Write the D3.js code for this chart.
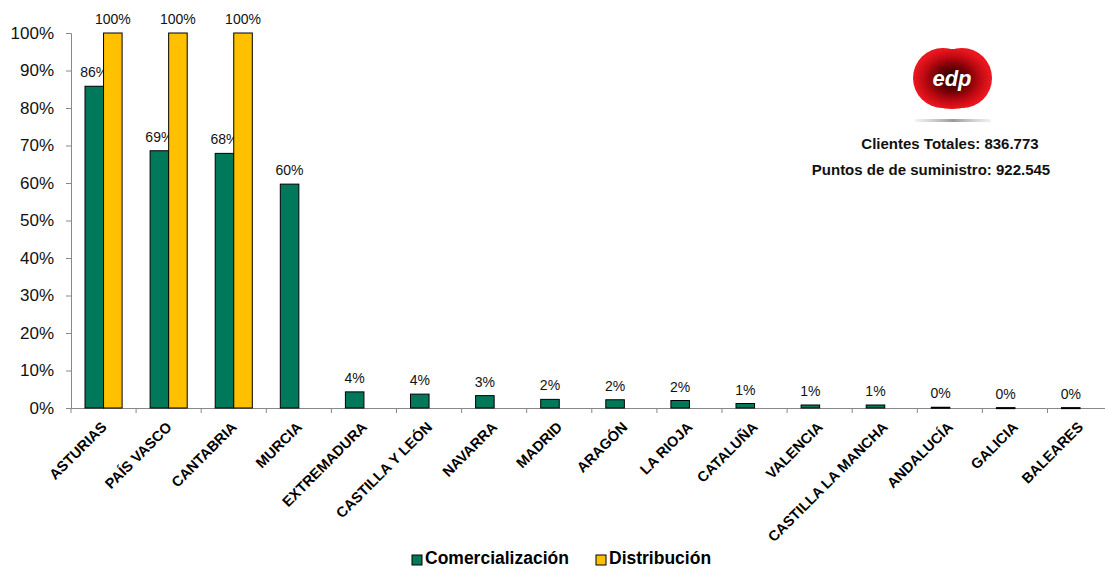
<!DOCTYPE html>
<html>
<head>
<meta charset="utf-8">
<script src="https://cdn.jsdelivr.net/npm/d3@7"></script>
<style>
  html, body { margin: 0; padding: 0; background: #fff; }
  svg { display: block; font-family: "Liberation Sans", Arial, sans-serif; }
</style>
</head>
<body>
<svg id="chart" width="1105" height="568"></svg>
<script>
const regions = ['ASTURIAS', 'PAÍS VASCO', 'CANTABRIA', 'MURCIA', 'EXTREMADURA', 'CASTILLA Y LEÓN',
  'NAVARRA', 'MADRID', 'ARAGÓN', 'LA RIOJA', 'CATALUÑA', 'VALENCIA', 'CASTILLA LA MANCHA',
  'ANDALUCÍA', 'GALICIA', 'BALEARES'];
const comercializacion = [85.8, 68.6, 67.9, 59.7, 4.3, 3.7, 3.3, 2.3, 2.2, 2.0, 1.2, 0.8, 0.8, 0.2, 0.1, 0.1];
const distribucion = [100, 100, 100, null, null, null, null, null, null, null, null, null, null, null, null, null];
const seriesNames = ['Comercialización', 'Distribución'];
const seriesColors = ['#00785A', '#FFC000'];
const yTicks = [0, 10, 20, 30, 40, 50, 60, 70, 80, 90, 100];
const infoLines = ['Clientes Totales: 836.773', 'Puntos de de suministro: 922.545'];

const svg = d3.select('#chart');
const m = { left: 71, top: 33, bottom: 408 };

const x = d3.scaleBand().domain(regions).range([m.left, m.left + 65.1 * regions.length]);
const xs = d3.scaleBand().domain([0, 1]).range([14, x.bandwidth() - 14]);
const y = d3.scaleLinear().domain([0, 100]).range([m.bottom, m.top]);

// y axis
const yAxis = svg.append('g')
    .attr('transform', `translate(${m.left},0)`)
    .call(d3.axisLeft(y).tickValues(yTicks).tickSize(5).tickPadding(12).tickFormat(d => d + '%'));
yAxis.select('.domain').attr('stroke', '#888');
yAxis.selectAll('.tick line').attr('stroke', '#888');
yAxis.selectAll('.tick text').attr('font-size', '17px').attr('fill', '#111').attr('font-family', '"Liberation Sans", Arial, sans-serif');

// x axis
const xAxis = svg.append('g')
    .attr('transform', `translate(0,${m.bottom})`)
    .call(d3.axisBottom(x).tickSize(0).tickFormat(''));
xAxis.select('.domain').attr('stroke', '#888');
xAxis.selectAll('.tick').remove();
xAxis.selectAll('.xt')
  .data(regions)
  .join('line')
    .attr('x1', d => x(d)).attr('x2', d => x(d))
    .attr('y1', 0).attr('y2', 5)
    .attr('stroke', '#888');

svg.append('g').selectAll('text')
  .data(regions)
  .join('text')
    .attr('transform', d => `translate(${x(d) + x.bandwidth() / 2 + 4},${m.bottom + 20}) rotate(-45)`)
    .attr('text-anchor', 'end')
    .attr('font-size', '14.5px')
    .attr('font-weight', 'bold')
    .attr('fill', '#000')
    .text(d => d);

// bars
const series = [comercializacion, distribucion];
series.forEach((vals, si) => {
  const rows = regions.map((r, i) => ({ r, v: vals[i] })).filter(d => d.v != null);
  svg.append('g').selectAll('rect')
    .data(rows)
    .join('rect')
      .attr('x', d => x(d.r) + xs(si))
      .attr('width', xs.bandwidth())
      .attr('y', d => y(d.v))
      .attr('height', d => Math.max(1, m.bottom - y(d.v)))
      .attr('fill', seriesColors[si])
      .attr('stroke', '#000')
      .attr('stroke-width', 1);
  svg.append('g').selectAll('text')
    .data(rows)
    .join('text')
      .attr('x', d => x(d.r) + xs(si) + xs.bandwidth() / 2)
      .attr('y', d => y(d.v) - 9)
      .attr('text-anchor', 'middle')
      .attr('font-size', '14px')
      .attr('fill', '#111')
      .text(d => Math.round(d.v) + '%');
});

// legend
const legend = svg.append('g');
const legendX = [412, 596];
seriesNames.forEach((name, i) => {
  legend.append('rect')
    .attr('x', legendX[i]).attr('y', 555)
    .attr('width', 10).attr('height', 10)
    .attr('fill', seriesColors[i]).attr('stroke', '#000');
  legend.append('text')
    .attr('x', legendX[i] + 13).attr('y', 564)
    .attr('font-size', '17.5px').attr('font-weight', 'bold')
    .text(name);
});

// edp logo
const defs = svg.append('defs');
const grad = defs.append('radialGradient').attr('id', 'edpgrad');
grad.append('stop').attr('offset', '0%').attr('stop-color', '#1a0000');
grad.append('stop').attr('offset', '40%').attr('stop-color', '#6a0004');
grad.append('stop').attr('offset', '75%').attr('stop-color', '#c10a12');
grad.append('stop').attr('offset', '100%').attr('stop-color', '#e8161e');
const shadow = defs.append('linearGradient').attr('id', 'edpshadow');
shadow.append('stop').attr('offset', '0%').attr('stop-color', '#bbb').attr('stop-opacity', 0.2);
shadow.append('stop').attr('offset', '50%').attr('stop-color', '#999');
shadow.append('stop').attr('offset', '100%').attr('stop-color', '#bbb').attr('stop-opacity', 0.2);

const logo = svg.append('g');
logo.append('circle').attr('cx', 943).attr('cy', 78).attr('r', 30).attr('fill', '#e8161e');
logo.append('circle').attr('cx', 962).attr('cy', 78).attr('r', 30).attr('fill', '#e8161e');
logo.append('ellipse').attr('cx', 952).attr('cy', 79).attr('rx', 38).attr('ry', 30).attr('fill', 'url(#edpgrad)');
logo.append('text')
  .attr('x', 952).attr('y', 86)
  .attr('text-anchor', 'middle')
  .attr('font-size', '22px').attr('font-style', 'italic').attr('font-weight', 'bold')
  .attr('fill', '#fff')
  .text('edp');
logo.append('rect').attr('x', 915).attr('y', 119).attr('width', 76).attr('height', 3)
  .attr('rx', 1.5).attr('fill', 'url(#edpshadow)');

svg.append('g').selectAll('text')
  .data(infoLines)
  .join('text')
    .attr('x', (d, i) => [950, 931][i])
    .attr('y', (d, i) => [149, 175][i])
    .attr('text-anchor', 'middle')
    .attr('font-size', '15px').attr('font-weight', 'bold')
    .attr('fill', '#111')
    .text(d => d);
</script>
</body>
</html>
